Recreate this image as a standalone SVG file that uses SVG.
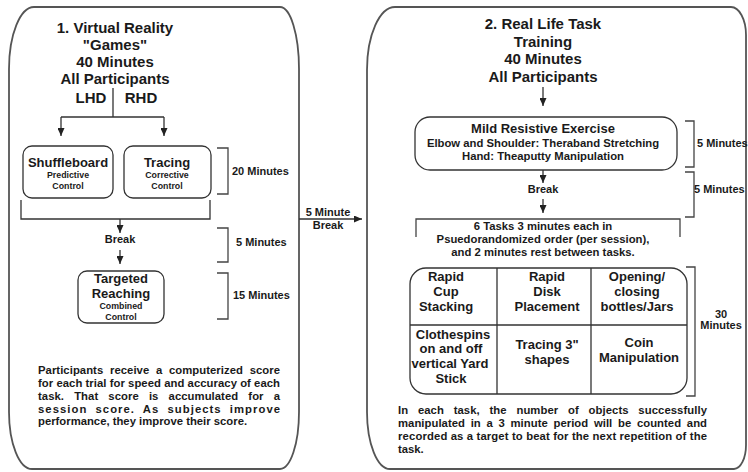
<svg xmlns="http://www.w3.org/2000/svg" width="748" height="472" viewBox="0 0 748 472">
<defs>
<style>
.t{font-family:"Liberation Sans",Arial,Helvetica,sans-serif;font-weight:bold;fill:#1a1a1a}
.m{text-anchor:middle}
.h{font-size:15px}
.n{font-size:13px}
.s{font-size:8.8px}
.d{font-size:11px}
.p{font-size:11.3px}
.panel{fill:#fff;stroke:#555;stroke-width:1.8}
.box{fill:none;stroke:#333;stroke-width:1.3}
.ln{fill:none;stroke:#333;stroke-width:1.3}
.br{fill:none;stroke:#444;stroke-width:1.3}
</style>
<marker id="ah" markerUnits="userSpaceOnUse" markerWidth="8" markerHeight="7" refX="8" refY="3.5" orient="auto">
<path d="M0,0 L8,3.5 L0,7 Z" fill="#222"/>
</marker>
</defs>
<rect width="748" height="472" fill="#fff"/>

<g id="panel1">
<path class="panel" d="M34,7 H280 A19,62 0 0 1 299,69 V412 A19,57 0 0 1 280,469 H32 A23,57 0 0 1 9,412 V69 A25,62 0 0 1 34,7 Z"/>
<text class="t h m" x="115" y="33">1. Virtual Reality</text>
<text class="t h m" x="115" y="50">"Games"</text>
<text class="t h m" x="115" y="67">40 Minutes</text>
<text class="t h m" x="115" y="84">All Participants</text>
<text class="t h m" x="91" y="103">LHD</text>
<text class="t h m" x="141" y="103">RHD</text>
</g>

<g id="shuffleboard">
<rect class="box" x="23" y="146" width="90" height="52" rx="9"/>
<text class="t n m" x="68" y="167">Shuffleboard</text>
<text class="t s m" x="68" y="178">Predictive</text>
<text class="t s m" x="68" y="189">Control</text>
</g>

<g id="tracing">
<rect class="box" x="124" y="146" width="87" height="52" rx="9"/>
<text class="t n m" x="167" y="167">Tracing</text>
<text class="t s m" x="167" y="178">Corrective</text>
<text class="t s m" x="167" y="189">Control</text>
</g>

<g id="break1">
<text class="t d m" x="120" y="243">Break</text>
</g>

<g id="targeted">
<rect class="box" x="78" y="271" width="86" height="52" rx="9"/>
<text class="t n m" x="121" y="283">Targeted</text>
<text class="t n m" x="121" y="298">Reaching</text>
<text class="t s m" x="121" y="309">Combined</text>
<text class="t s m" x="121" y="320">Control</text>
</g>

<g id="durations1">
<path class="br" d="M217,148 H228 V194 H217"/>
<text class="t d" x="232" y="175">20 Minutes</text>
<path class="br" d="M217,228 H228 V262 H217"/>
<text class="t d" x="236" y="246">5 Minutes</text>
<path class="br" d="M217,273 H228 V319 H217"/>
<text class="t d" x="233" y="299">15 Minutes</text>
</g>

<g id="note1">
<text class="t p" x="38" y="374" word-spacing="3.5" textLength="242" lengthAdjust="spacing">Participants receive a computerized score</text>
<text class="t p" x="38" y="387" textLength="242" lengthAdjust="spacing">for each trial for speed and accuracy of each</text>
<text class="t p" x="38" y="400" word-spacing="7" textLength="242" lengthAdjust="spacing">task. That score is accumulated for a</text>
<text class="t p" x="38" y="413" word-spacing="4" textLength="242" lengthAdjust="spacing">session score. As subjects improve</text>
<text class="t p" x="38" y="425">performance, they improve their score.</text>
</g>

<g id="panel2">
<path class="panel" d="M395,7 H731 A15,28 0 0 1 746,35 V445 A12,24 0 0 1 734,469 H390 A23,57 0 0 1 367,412 V70 A28,63 0 0 1 395,7 Z"/>
<text class="t h m" x="543" y="29">2. Real Life Task</text>
<text class="t h m" x="543" y="47">Training</text>
<text class="t h m" x="543" y="64">40 Minutes</text>
<text class="t h m" x="543" y="82">All Participants</text>
</g>

<g id="exercise">
<rect class="box" x="415" y="117" width="262" height="53" rx="15"/>
<text class="t n m" x="543" y="133">Mild Resistive Exercise</text>
<text class="t p m" x="543" y="147">Elbow and Shoulder: Theraband Stretching</text>
<text class="t p m" x="543" y="160">Hand: Theaputty Manipulation</text>
</g>

<g id="break2">
<text class="t d m" x="543" y="193">Break</text>
</g>

<g id="tasks-info">
<path class="br" d="M416,237 V219 H680 V237"/>
<text class="t p m" x="543" y="230">6 Tasks 3 minutes each in</text>
<text class="t p m" x="543" y="243">Psuedorandomized order (per session),</text>
<text class="t p m" x="543" y="256">and 2 minutes rest between tasks.</text>
</g>

<g id="tasks-table">
<rect class="box" x="410" y="268" width="277" height="126" rx="16"/>
<path class="ln" d="M410,325 H687 M497,268 V394 M591,268 V394"/>
<text class="t n m" x="446" y="281">Rapid</text>
<text class="t n m" x="446" y="296">Cup</text>
<text class="t n m" x="446" y="311">Stacking</text>
<text class="t n m" x="547" y="281">Rapid</text>
<text class="t n m" x="547" y="296">Disk</text>
<text class="t n m" x="547" y="311">Placement</text>
<text class="t n m" x="637" y="281">Opening/</text>
<text class="t n m" x="637" y="296">closing</text>
<text class="t n m" x="637" y="311">bottles/Jars</text>
<text class="t n m" x="453" y="339">Clothespins</text>
<text class="t n m" x="451" y="353">on and off</text>
<text class="t n m" x="450" y="368">vertical Yard</text>
<text class="t n m" x="451" y="383">Stick</text>
<text class="t n m" x="547" y="349">Tracing 3"</text>
<text class="t n m" x="547" y="364">shapes</text>
<text class="t n m" x="639" y="347">Coin</text>
<text class="t n m" x="639" y="362">Manipulation</text>
</g>

<g id="durations2">
<path class="br" d="M685,121 H694 V167 H685"/>
<text class="t d" x="697" y="147">5 Minutes</text>
<path class="br" d="M685,172 H694 V217 H685"/>
<text class="t d" x="694" y="193">5 Minutes</text>
<path class="br" d="M686,267 H695 V396 H686"/>
<text class="t d m" x="721" y="318">30</text>
<text class="t d m" x="721" y="329">Minutes</text>
</g>

<g id="note2">
<text class="t p" x="398" y="414" word-spacing="6.5" textLength="309" lengthAdjust="spacing">In each task, the number of objects successfully</text>
<text class="t p" x="398" y="427" word-spacing="2.5" textLength="309" lengthAdjust="spacing">manipulated in a 3 minute period will be counted and</text>
<text class="t p" x="398" y="440" textLength="309" lengthAdjust="spacing">recorded as a target to beat for the next repetition of the</text>
<text class="t p" x="398" y="453">task.</text>
</g>

<g id="connectors">
<path class="ln" d="M113,88 V117 M61,117 H164"/>
<line class="ln" x1="61" y1="117" x2="61" y2="136" marker-end="url(#ah)"/>
<line class="ln" x1="164" y1="117" x2="164" y2="136" marker-end="url(#ah)"/>
<path class="ln" d="M21,200 V219 H210 V200"/>
<line class="ln" x1="120" y1="219" x2="120" y2="233" marker-end="url(#ah)"/>
<line class="ln" x1="120" y1="250" x2="120" y2="264" marker-end="url(#ah)"/>
<line class="ln" x1="299" y1="219" x2="362" y2="219" marker-end="url(#ah)"/>
<text class="t d m" x="328" y="216">5 Minute</text>
<text class="t d m" x="328" y="229">Break</text>
<line class="ln" x1="543" y1="87" x2="543" y2="106" marker-end="url(#ah)"/>
<line class="ln" x1="543" y1="170" x2="543" y2="183" marker-end="url(#ah)"/>
<line class="ln" x1="543" y1="199" x2="543" y2="213" marker-end="url(#ah)"/>
</g>
</svg>
